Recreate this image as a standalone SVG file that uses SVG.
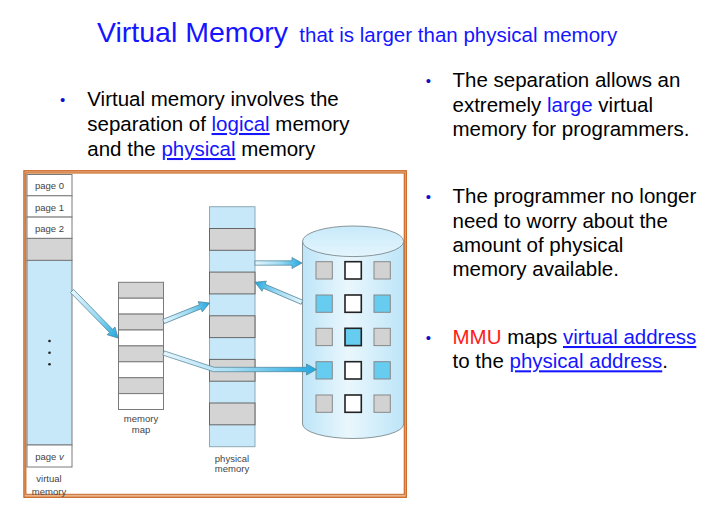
<svg xmlns="http://www.w3.org/2000/svg" width="711" height="509" viewBox="0 0 711 509">
<style>
text{font-family:"Liberation Sans",Arial,Helvetica,sans-serif}
.body{font-size:20.5px;fill:#000}
.blue{fill:#1515ff}
.link{fill:#1515ff;text-decoration:underline}
.red{fill:#ff1a1a}
.bul{font-size:15px;fill:#1010cc;text-anchor:middle}
.sm{font-size:9.5px;fill:#444;text-anchor:middle}
.cell{stroke:#7a7a7a;stroke-width:1}
.w{fill:#ffffff}
.g{fill:#d4d4d4}
.b{fill:#c6e8f9}
.pg{fill:#d4d4d4;stroke:#666;stroke-width:1}
.sq{stroke:#888;stroke-width:1}
.sqm{stroke:#222;stroke-width:1.6}
.sg{fill:#d2d2d2}
.sb{fill:#66ccf0}
.arr{fill:url(#ag);stroke:#4d7f95;stroke-width:0.7}
</style>
<defs>
<linearGradient id="ag" x1="0" y1="0" x2="1" y2="0">
<stop offset="0" stop-color="#e6f6fd"/>
<stop offset="0.55" stop-color="#9adaf3"/>
<stop offset="1" stop-color="#1fa8e0"/>
</linearGradient>
<linearGradient id="ag3" gradientUnits="userSpaceOnUse" x1="163" y1="0" x2="317" y2="0">
<stop offset="0" stop-color="#e6f6fd"/>
<stop offset="0.45" stop-color="#a8def4"/>
<stop offset="1" stop-color="#1fa8e0"/>
</linearGradient>
<linearGradient id="cyl" x1="0" y1="0" x2="1" y2="0">
<stop offset="0" stop-color="#bde5f8"/>
<stop offset="0.45" stop-color="#eaf7fd"/>
<stop offset="1" stop-color="#bde5f8"/>
</linearGradient>
<linearGradient id="cyltop" x1="0" y1="0" x2="0" y2="1">
<stop offset="0" stop-color="#c8eafa"/>
<stop offset="1" stop-color="#e4f5fd"/>
</linearGradient>
</defs>

<rect width="711" height="509" fill="#ffffff"/>

<g id="title">
<text x="97" y="42.3" font-size="28.5" fill="#1515ff">Virtual Memory</text>
<text x="299.3" y="42.3" font-size="20.5" fill="#1515ff">that is larger than physical memory</text>
</g>

<g id="left-text">
<text class="bul" x="62.7" y="105">•</text>
<text class="body" x="87.3" y="106">Virtual memory involves the</text>
<text class="body" x="87.3" y="131">separation of <tspan class="link">logical</tspan> memory</text>
<text class="body" x="87.3" y="156">and the <tspan class="link">physical</tspan> memory</text>
</g>

<g id="right-text">
<text class="bul" x="428.3" y="85.5">•</text>
<text class="body" x="452.5" y="87.3">The separation allows an</text>
<text class="body" x="452.5" y="111.7">extremely <tspan class="blue">large</tspan> virtual</text>
<text class="body" x="452.5" y="136">memory for programmers.</text>
<text class="bul" x="428.3" y="202">•</text>
<text class="body" x="452.5" y="203.3">The programmer no longer</text>
<text class="body" x="452.5" y="227.5">need to worry about the</text>
<text class="body" x="452.5" y="251.7">amount of physical</text>
<text class="body" x="452.5" y="276">memory available.</text>
<text class="bul" x="428.3" y="342.5">•</text>
<text class="body" x="452.5" y="344"><tspan class="red">MMU</tspan> maps <tspan class="link">virtual address</tspan></text>
<text class="body" x="452.5" y="368.3">to the <tspan class="link">physical address</tspan>.</text>
</g>

<g id="frame">
<rect x="24.8" y="171.8" width="380.5" height="324.2" fill="#ffffff" stroke="#eab48c" stroke-width="3"/>
<rect x="24" y="170.8" width="382.3" height="326.5" fill="none" stroke="#c8641e" stroke-width="1.2"/>
<rect x="25.8" y="173" width="378.5" height="321.3" fill="none" stroke="#c8641e" stroke-width="1"/>
</g>

<g id="virtual-memory">
<rect class="cell w" x="27" y="174.5" width="45" height="21.3"/>
<rect class="cell w" x="27" y="195.8" width="45" height="21.3"/>
<rect class="cell w" x="27" y="217.1" width="45" height="21.3"/>
<rect class="cell g" x="27" y="238.4" width="45" height="22"/>
<rect class="cell b" x="27" y="260.4" width="45" height="184.6"/>
<rect class="cell w" x="27" y="445" width="45" height="22"/>
<text class="sm" x="49.5" y="189">page 0</text>
<text class="sm" x="49.5" y="210.5">page 1</text>
<text class="sm" x="49.5" y="231.5">page 2</text>
<text class="sm" x="49.5" y="459.5">page <tspan font-style="italic">v</tspan></text>
<circle cx="49.5" cy="341" r="1.3" fill="#222"/>
<circle cx="49.5" cy="352.7" r="1.3" fill="#222"/>
<circle cx="49.5" cy="364.3" r="1.3" fill="#222"/>
<text class="sm" x="49" y="481.5">virtual</text>
<text class="sm" x="49" y="494.5">memory</text>
</g>

<g id="memory-map">
<rect class="cell g" x="118.5" y="282.3" width="45" height="15.9"/>
<rect class="cell w" x="118.5" y="298.2" width="45" height="15.9"/>
<rect class="cell g" x="118.5" y="314.1" width="45" height="15.9"/>
<rect class="cell w" x="118.5" y="330" width="45" height="15.9"/>
<rect class="cell g" x="118.5" y="345.9" width="45" height="15.9"/>
<rect class="cell w" x="118.5" y="361.8" width="45" height="15.9"/>
<rect class="cell g" x="118.5" y="377.7" width="45" height="15.9"/>
<rect class="cell w" x="118.5" y="393.6" width="45" height="15.9"/>
<text class="sm" x="141" y="422">memory</text>
<text class="sm" x="141" y="433">map</text>
</g>

<g id="physical-memory">
<rect x="209.5" y="206.7" width="45.5" height="240" fill="#c6e8f9" stroke="#8fa9b5" stroke-width="1"/>
<rect class="pg" x="209.5" y="228.5" width="45.5" height="21.8"/>
<rect class="pg" x="209.5" y="272.1" width="45.5" height="21.8"/>
<rect class="pg" x="209.5" y="315.8" width="45.5" height="21.8"/>
<rect class="pg" x="209.5" y="359.4" width="45.5" height="21.8"/>
<rect class="pg" x="209.5" y="403" width="45.5" height="21.8"/>
<text class="sm" x="232" y="461.5">physical</text>
<text class="sm" x="232" y="471.5">memory</text>
</g>

<g id="disk">
<path d="M302.5,241.3 L302.5,424 A50.6,14.5 0 0 0 403.7,424 L403.7,241.3 Z" fill="url(#cyl)" stroke="#7d8a90" stroke-width="0.9"/>
<ellipse cx="353.1" cy="241.3" rx="50.6" ry="15.3" fill="url(#cyltop)" stroke="#7d8a90" stroke-width="0.9"/>
<rect class="sq sg" x="316" y="261.7" width="16.3" height="17.3"/>
<rect class="sqm w" x="345" y="261.7" width="16.3" height="17.3"/>
<rect class="sq sg" x="374" y="261.7" width="16.3" height="17.3"/>
<rect class="sq sb" x="316" y="295" width="16.3" height="17.3"/>
<rect class="sqm w" x="345" y="295" width="16.3" height="17.3"/>
<rect class="sq sb" x="374" y="295" width="16.3" height="17.3"/>
<rect class="sq sg" x="316" y="328.3" width="16.3" height="17.3"/>
<rect class="sqm sb" x="345" y="328.3" width="16.3" height="17.3"/>
<rect class="sq sg" x="374" y="328.3" width="16.3" height="17.3"/>
<rect class="sq sb" x="316" y="361.7" width="16.3" height="17.3"/>
<rect class="sqm w" x="345" y="361.7" width="16.3" height="17.3"/>
<rect class="sq sb" x="374" y="361.7" width="16.3" height="17.3"/>
<rect class="sq sg" x="316" y="395" width="16.3" height="17.3"/>
<rect class="sqm w" x="345" y="395" width="16.3" height="17.3"/>
<rect class="sq sg" x="374" y="395" width="16.3" height="17.3"/>
</g>

<g id="connectors">
<polygon class="arr" transform="translate(72,291) rotate(45.6)" points="0,-2.2 55.8,-2.2 55.8,-5.5 65.8,0 55.8,5.5 55.8,2.2 0,2.2"/>
<polygon class="arr" transform="translate(163.5,321.5) rotate(-21.9)" points="0,-2.2 39.6,-2.2 39.6,-5.5 49.6,0 39.6,5.5 39.6,2.2 0,2.2"/>
<polygon fill="url(#ag3)" stroke="#4d7f95" stroke-width="0.7" points="164.2,350.9 214.3,367.3 306.5,367.3 306.5,364 316.5,369.5 306.5,375 306.5,371.7 213.6,371.7 162.8,355.1"/>
<polygon class="arr" transform="translate(255,263)" points="0,-2.2 37,-2.2 37,-5.5 47,0 37,5.5 37,2.2 0,2.2"/>
<polygon class="arr" transform="translate(302,302.3) rotate(203.05)" points="0,-2.2 41.1,-2.2 41.1,-5.5 51.1,0 41.1,5.5 41.1,2.2 0,2.2"/>
</g>
</svg>
